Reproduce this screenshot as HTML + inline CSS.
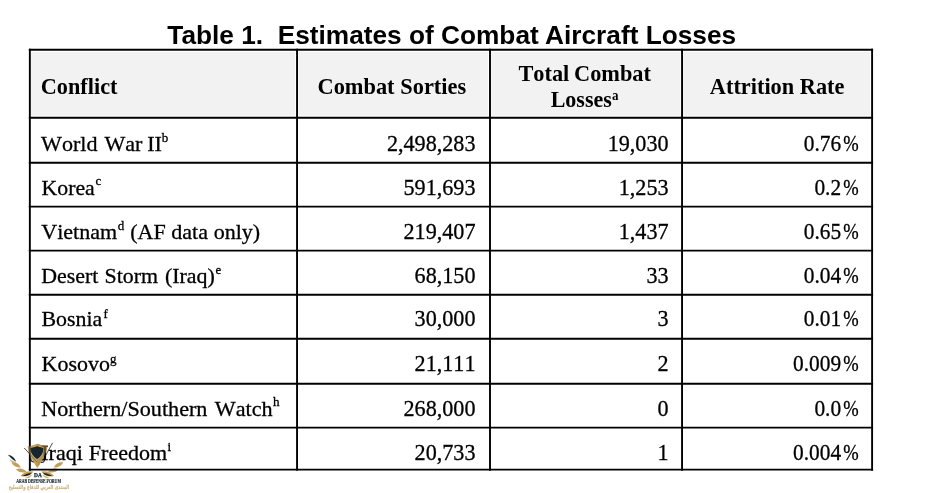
<!DOCTYPE html>
<html lang="en"><head><meta charset="utf-8"><title>Table 1. Estimates of Combat Aircraft Losses</title>
<style>
html,body{margin:0;padding:0;background:#fff;}
body{width:940px;height:493px;overflow:hidden;position:relative;}
svg{position:absolute;left:0;top:0;display:block;}
.t{font-family:"Liberation Sans",Arial,sans-serif;font-weight:bold;font-size:26.3px;fill:#000;}
.h{font-family:"Liberation Serif","Times New Roman",serif;font-weight:bold;font-size:23.6px;fill:#000;font-kerning:none;}
.c{font-family:"Liberation Serif","Times New Roman",serif;font-size:22px;fill:#000;font-kerning:none;stroke:#000;stroke-width:0.3px;}
.n{font-family:"Liberation Serif","Times New Roman",serif;font-size:23px;fill:#000;font-kerning:none;stroke:#000;stroke-width:0.3px;}
.s{font-family:"Liberation Serif","Times New Roman",serif;font-size:13px;fill:#000;stroke:#000;stroke-width:0.3px;}
.hs{font-family:"Liberation Serif","Times New Roman",serif;font-weight:bold;font-size:14px;fill:#000;}
</style></head><body>
<svg width="940" height="493" viewBox="0 0 940 493">
<rect x="0" y="0" width="940" height="493" fill="#fff"/>
<rect x="31.10" y="52.05" width="264.00" height="63.55" fill="#f2f2f2"/>
<rect x="298.30" y="52.05" width="189.75" height="63.55" fill="#f2f2f2"/>
<rect x="491.25" y="52.05" width="188.85" height="63.55" fill="#f2f2f2"/>
<rect x="683.30" y="52.05" width="186.85" height="63.55" fill="#f2f2f2"/>
<g id="logo">
<path d="M7.80,454.80 Q14.05,455.84 16.20,461.80 Q11.36,459.07 7.80,454.80Z" fill="#17252f"/>
<path d="M9.40,459.20 Q12.89,460.72 16.20,462.60 Q11.55,463.40 9.40,459.20Z" fill="#cdb07a"/>
<path d="M11.30,462.40 Q17.82,461.54 20.80,467.40 Q14.56,467.73 11.30,462.40Z" fill="#c3a059"/>
<path d="M15.80,469.40 Q22.27,466.61 26.80,472.00 Q20.52,474.01 15.80,469.40Z" fill="#c3a059"/>
<path d="M20.40,476.00 Q25.62,470.01 33.40,471.60 Q28.44,478.35 20.40,476.00Z" fill="#c3a059"/>
<path d="M22.60,475.80 Q26.95,473.54 31.80,472.80 Q28.07,476.96 22.60,475.80Z" fill="#17252f"/>
<path d="M25.00,478.10 Q28.61,476.17 32.40,474.60 Q29.98,479.06 25.00,478.10Z" fill="#cdb07a"/>
<path d="M66.80,454.80 Q60.55,455.84 58.40,461.80 Q63.24,459.07 66.80,454.80Z" fill="#17252f" opacity="0.12"/>
<path d="M65.20,459.20 Q61.71,460.72 58.40,462.60 Q63.05,463.40 65.20,459.20Z" fill="#cdb07a" opacity="0.2"/>
<path d="M63.30,462.40 Q56.78,461.54 53.80,467.40 Q60.04,467.73 63.30,462.40Z" fill="#c3a059"/>
<path d="M58.80,469.40 Q52.33,466.61 47.80,472.00 Q54.08,474.01 58.80,469.40Z" fill="#c3a059"/>
<path d="M54.20,476.00 Q48.98,470.01 41.20,471.60 Q46.16,478.35 54.20,476.00Z" fill="#c3a059"/>
<path d="M52.00,475.80 Q47.65,473.54 42.80,472.80 Q46.53,476.96 52.00,475.80Z" fill="#17252f"/>
<path d="M49.60,478.10 Q45.99,476.17 42.20,474.60 Q44.62,479.06 49.60,478.10Z" fill="#cdb07a"/>
<path d="M27.7,446.6 Q32.6,446.0 37.2,443.8 Q41.8,446.0 47.4,445.4 C47.0,451.5 42.8,460.0 37.2,467.7 C32.0,460.0 28.1,452.5 27.7,446.6Z" fill="#c3a059"/>
<path d="M37.2,443.8 Q41.8,446.0 47.4,445.4 C47.0,451.5 42.8,460.0 37.2,467.7Z" fill="#8a6f42" opacity="0.55"/>
<path d="M29.9,447.3 Q34.2,447.0 37.2,445.5 Q40.2,447.0 44.0,447.3 C44.1,452.9 41.4,457.3 37.2,459.8 C33.0,457.3 29.8,452.9 29.9,447.3Z" fill="#dcc48d"/>
<g stroke="#1c2227" stroke-width="0.8" stroke-linecap="round" fill="none">
<line x1="24.5" y1="448.3" x2="36.6" y2="461.5"/>
<line x1="52.4" y1="443.2" x2="42.7" y2="460.8"/>
<path d="M31.0,458.8 q-0.6,2.6 2.6,3.2" stroke-width="1.2"/>
<path d="M44.4,459.8 q0.2,2.4 -2.8,2.6" stroke-width="1.2"/>
</g>
<path d="M30.6,447.9 Q34.4,447.6 37.2,446.3 Q40.0,447.6 43.3,447.9 C43.4,452.6 41,456.6 37.2,458.9 C33.4,456.6 30.5,452.6 30.6,447.9Z" fill="#17252f"/>
<text x="38.0" y="477.3" text-anchor="middle" textLength="7.8" lengthAdjust="spacingAndGlyphs" style="font-family:'Liberation Serif',serif;font-weight:bold;font-size:5.4px;fill:#17252f;stroke:#17252f;stroke-width:0.25">DA</text>
<text x="16.2" y="482.9" textLength="44.8" lengthAdjust="spacingAndGlyphs" style="font-family:'Liberation Serif',serif;font-weight:bold;font-size:5.2px;fill:#17252f;stroke:#17252f;stroke-width:0.15">ARAB DEFENSE FORUM</text>
<text x="69.2" y="489.4" direction="rtl" textLength="60.5" lengthAdjust="spacingAndGlyphs" style="font-family:'DejaVu Sans',sans-serif;font-weight:bold;font-size:5.6px;fill:#cdb585;stroke:#cdb585;stroke-width:0.22;">المنتدى العربي للدفاع والتسليح</text>
</g>
<g stroke="#000" stroke-width="1.9" fill="none">
<line x1="28.85" y1="49.80" x2="873.10" y2="49.80"/>
<line x1="28.85" y1="117.75" x2="873.10" y2="117.75"/>
<line x1="28.85" y1="162.70" x2="873.10" y2="162.70"/>
<line x1="28.85" y1="206.65" x2="873.10" y2="206.65"/>
<line x1="28.85" y1="250.60" x2="873.10" y2="250.60"/>
<line x1="28.85" y1="294.70" x2="873.10" y2="294.70"/>
<line x1="28.85" y1="338.70" x2="873.10" y2="338.70"/>
<line x1="28.85" y1="383.70" x2="873.10" y2="383.70"/>
<line x1="28.85" y1="427.65" x2="873.10" y2="427.65"/>
<line x1="28.85" y1="469.65" x2="873.10" y2="469.65"/>
<line x1="29.85" y1="48.80" x2="29.85" y2="470.65"/>
<line x1="297.05" y1="48.80" x2="297.05" y2="470.65"/>
<line x1="490.00" y1="48.80" x2="490.00" y2="470.65"/>
<line x1="682.05" y1="48.80" x2="682.05" y2="470.65"/>
<line x1="872.10" y1="48.80" x2="872.10" y2="470.65"/>
</g>
<text class="t" transform="translate(0,43.70) scale(0.9986,1)" xml:space="preserve"><tspan x="167.54">Table 1.  Estimates of Combat Aircraft Losses</tspan></text>
<text class="h" transform="translate(0,94.00) scale(0.9437,1)" xml:space="preserve"><tspan x="43.19">Conflict</tspan></text>
<text class="h" transform="translate(0,93.90) scale(0.9486,1)" xml:space="preserve"><tspan x="334.69">Combat </tspan><tspan x="421.97">Sorties</tspan></text>
<text class="h" transform="translate(0,81.40) scale(0.9459,1)" xml:space="preserve"><tspan x="548.11">Total </tspan><tspan x="606.87">Combat</tspan></text>
<text class="h" transform="translate(0,106.70) scale(0.9323,1)" xml:space="preserve"><tspan x="590.68">Losses</tspan><tspan class="hs" x="656.48" dy="-7.20">a</tspan></text>
<text class="h" transform="translate(0,93.90) scale(0.9472,1)" xml:space="preserve"><tspan x="749.38">Attrition Rate</tspan></text>
<text class="c" transform="translate(0,150.50) scale(1.0037,1)" xml:space="preserve"><tspan x="40.94">World </tspan><tspan x="104.04">War </tspan><tspan x="146.72">II</tspan><tspan class="s" x="161.19" dy="-8.70">b</tspan></text>
<text class="c" transform="translate(0,194.60) scale(0.9907,1)" xml:space="preserve"><tspan x="41.99">Korea</tspan><tspan class="s" x="96.47" dy="-9.20">c</tspan></text>
<text class="c" transform="translate(0,238.80) scale(1.0016,1)" xml:space="preserve"><tspan x="41.23">Vietnam</tspan><tspan class="s" x="117.61" dy="-8.90">d </tspan><tspan x="129.97" dy="8.90">(AF </tspan><tspan x="171.05">data </tspan><tspan x="213.38">only)</tspan></text>
<text class="c" transform="translate(0,282.80) scale(0.9962,1)" xml:space="preserve"><tspan x="41.37">Desert </tspan><tspan x="104.90">Storm </tspan><tspan x="165.52">(Iraq)</tspan><tspan class="s" x="216.28" dy="-8.95">e</tspan></text>
<text class="c" transform="translate(0,326.10) scale(0.9951,1)" xml:space="preserve"><tspan x="41.71">Bosnia</tspan><tspan class="s" x="103.92" dy="-8.30">f</tspan></text>
<text class="c" transform="translate(0,370.70) scale(0.9985,1)" xml:space="preserve"><tspan x="41.66">Kosovo</tspan><tspan class="s" x="110.07" dy="-7.40">g</tspan></text>
<text class="c" transform="translate(0,415.80) scale(1.0077,1)" xml:space="preserve"><tspan x="40.95">Northern/Southern </tspan><tspan x="213.10">Watch</tspan><tspan class="s" x="270.80" dy="-9.60">h</tspan></text>
<text class="c" transform="translate(0,459.50) scale(1.0000,1)" xml:space="preserve"><tspan x="41.25">Iraqi </tspan><tspan x="88.85">Freedom</tspan><tspan class="s" x="167.45" dy="-8.20">i</tspan></text>
<text class="n" text-anchor="end" transform="translate(475.46,150.50) scale(0.963,1)">2,498,283</text>
<text class="n" text-anchor="end" transform="translate(668.54,150.50) scale(0.963,1)">19,030</text>
<text class="n" text-anchor="end" transform="translate(0,150.50) scale(0.93,1)"><tspan x="904.44">0.76</tspan><tspan x="906.67" text-anchor="start" textLength="16.60" lengthAdjust="spacingAndGlyphs">%</tspan></text>
<text class="n" text-anchor="end" transform="translate(475.46,194.60) scale(0.963,1)">591,693</text>
<text class="n" text-anchor="end" transform="translate(668.54,194.60) scale(0.963,1)">1,253</text>
<text class="n" text-anchor="end" transform="translate(0,194.60) scale(0.93,1)"><tspan x="904.44">0.2</tspan><tspan x="906.67" text-anchor="start" textLength="16.60" lengthAdjust="spacingAndGlyphs">%</tspan></text>
<text class="n" text-anchor="end" transform="translate(475.46,238.80) scale(0.963,1)">219,407</text>
<text class="n" text-anchor="end" transform="translate(668.54,238.80) scale(0.963,1)">1,437</text>
<text class="n" text-anchor="end" transform="translate(0,238.80) scale(0.93,1)"><tspan x="904.44">0.65</tspan><tspan x="906.67" text-anchor="start" textLength="16.60" lengthAdjust="spacingAndGlyphs">%</tspan></text>
<text class="n" text-anchor="end" transform="translate(475.46,282.80) scale(0.963,1)">68,150</text>
<text class="n" text-anchor="end" transform="translate(668.54,282.80) scale(0.963,1)">33</text>
<text class="n" text-anchor="end" transform="translate(0,282.80) scale(0.93,1)"><tspan x="904.44">0.04</tspan><tspan x="906.67" text-anchor="start" textLength="16.60" lengthAdjust="spacingAndGlyphs">%</tspan></text>
<text class="n" text-anchor="end" transform="translate(475.46,326.10) scale(0.963,1)">30,000</text>
<text class="n" text-anchor="end" transform="translate(668.54,326.10) scale(0.963,1)">3</text>
<text class="n" text-anchor="end" transform="translate(0,326.10) scale(0.93,1)"><tspan x="904.44">0.01</tspan><tspan x="906.67" text-anchor="start" textLength="16.60" lengthAdjust="spacingAndGlyphs">%</tspan></text>
<text class="n" text-anchor="end" transform="translate(475.46,370.70) scale(0.963,1)">21,111</text>
<text class="n" text-anchor="end" transform="translate(668.54,370.70) scale(0.963,1)">2</text>
<text class="n" text-anchor="end" transform="translate(0,370.70) scale(0.93,1)"><tspan x="904.44">0.009</tspan><tspan x="906.67" text-anchor="start" textLength="16.60" lengthAdjust="spacingAndGlyphs">%</tspan></text>
<text class="n" text-anchor="end" transform="translate(475.46,415.80) scale(0.963,1)">268,000</text>
<text class="n" text-anchor="end" transform="translate(668.54,415.80) scale(0.963,1)">0</text>
<text class="n" text-anchor="end" transform="translate(0,415.80) scale(0.93,1)"><tspan x="904.44">0.0</tspan><tspan x="906.67" text-anchor="start" textLength="16.60" lengthAdjust="spacingAndGlyphs">%</tspan></text>
<text class="n" text-anchor="end" transform="translate(475.46,459.50) scale(0.963,1)">20,733</text>
<text class="n" text-anchor="end" transform="translate(668.54,459.50) scale(0.963,1)">1</text>
<text class="n" text-anchor="end" transform="translate(0,459.50) scale(0.93,1)"><tspan x="904.44">0.004</tspan><tspan x="906.67" text-anchor="start" textLength="16.60" lengthAdjust="spacingAndGlyphs">%</tspan></text>
<g id="logo-overlay"><path d="M27.7,446.6 Q32.6,446.0 37.2,443.8 Q41.8,446.0 47.4,445.4 C47.0,451.5 42.8,460.0 37.2,467.7 C32.0,460.0 28.1,452.5 27.7,446.6Z" fill="#c3a059" opacity="0.5"/><path d="M30.6,447.9 Q34.4,447.6 37.2,446.3 Q40.0,447.6 43.3,447.9 C43.4,452.6 41,456.6 37.2,458.9 C33.4,456.6 30.5,452.6 30.6,447.9Z" fill="#17252f"/></g>
</svg>
</body></html>
